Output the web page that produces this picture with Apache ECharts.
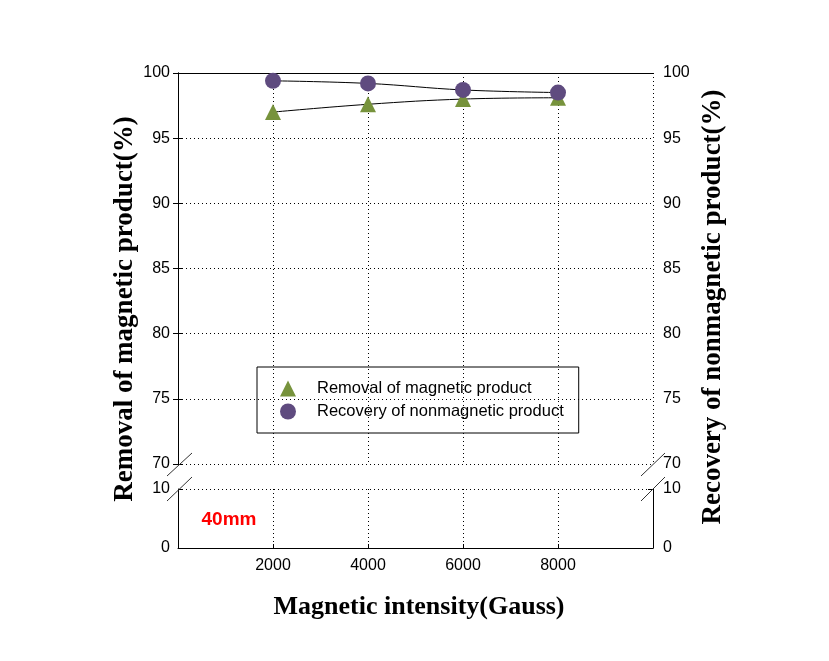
<!DOCTYPE html>
<html>
<head>
<meta charset="utf-8">
<script src="https://cdn.jsdelivr.net/npm/echarts@6/dist/echarts.min.js"></script>
<style>html,body{margin:0;padding:0;background:#fff;}#c{width:829px;height:661px;}</style>
</head>
<body>
<div id="c"></div>
<script>
// ---- data ----
var xValues = [2000, 4000, 6000, 8000];
var removal = [97.0, 97.6, 98.0, 98.1];
var recovery = [99.4, 99.2, 98.7, 98.5];
var seriesNames = ['Removal of magnetic product', 'Recovery of nonmagnetic product'];
var xTicks = [2000, 4000, 6000, 8000];
var yTopTicks = [70, 75, 80, 85, 90, 95, 100];
var yBottomTicks = [0, 10];
var xTitle = 'Magnetic intensity(Gauss)';
var yLeftTitle = 'Removal of magnetic product(%)';
var yRightTitle = 'Recovery of nonmagnetic product(%)';
var note = '40mm';

function pairs(xs, ys) { return xs.map(function (x, i) { return [x, ys[i]]; }); }

var chart = echarts.init(document.getElementById('c'));
var dotted = { color: '#000', width: 1, type: [1, 3] };
var lblFont = { fontFamily: 'Arial, "Liberation Sans", sans-serif', fontSize: 16, color: '#000' };
function xLabelFmt(v) { return xTicks.indexOf(v) >= 0 ? String(v) : ''; }

var slash = { stroke: '#333', lineWidth: 1 };
var serifBold = function (px) { return 'bold ' + px + 'px "Times New Roman", "Liberation Serif", serif'; };
chart.setOption({
  animation: false,
  backgroundColor: '#fff',
  grid: [
    { left: 178, top: 73, width: 475, height: 391 },
    { left: 178, top: 489, width: 475, height: 59 }
  ],
  xAxis: [
    { gridIndex: 0, type: 'value', position: 'bottom', min: 0, max: 10000, interval: 2000,
      axisLine: { show: false }, axisTick: { show: false }, axisLabel: { show: false },
      splitLine: { show: true, lineStyle: dotted } },
    { gridIndex: 0, type: 'value', position: 'top', min: 0, max: 10000, interval: 2000,
      axisLine: { show: true, lineStyle: { color: '#000', width: 1 } }, axisTick: { show: false },
      axisLabel: { show: false }, splitLine: { show: false } },
    { gridIndex: 1, type: 'value', position: 'bottom', min: 0, max: 10000, interval: 2000,
      axisLine: { show: true, lineStyle: { color: '#000', width: 1 } },
      axisTick: { show: true, inside: true, length: 4, lineStyle: { color: '#000' } },
      axisLabel: Object.assign({ margin: 10, formatter: xLabelFmt }, lblFont),
      splitLine: { show: true, lineStyle: dotted } }
  ],
  yAxis: [
    { gridIndex: 0, type: 'value', position: 'left', min: yTopTicks[0], max: yTopTicks[yTopTicks.length - 1], interval: 5,
      axisLine: { show: true, lineStyle: { color: '#000', width: 1 } },
      axisTick: { show: true, inside: true, length: 5, lineStyle: { color: '#000' } },
      axisLabel: Object.assign({ margin: 8, padding: [3, 0, 0, 0] }, lblFont),
      splitLine: { show: true, lineStyle: dotted } },
    { gridIndex: 0, type: 'value', position: 'right', min: yTopTicks[0], max: yTopTicks[yTopTicks.length - 1], interval: 5,
      axisLine: { show: true, lineStyle: { color: '#000', width: 1 } },
      axisTick: { show: true, inside: true, length: 5, lineStyle: { color: '#000' } },
      axisLabel: Object.assign({ margin: 10, padding: [3, 0, 0, 0] }, lblFont),
      splitLine: { show: false } },
    { gridIndex: 1, type: 'value', position: 'left', min: yBottomTicks[0], max: yBottomTicks[1], interval: 10,
      axisLine: { show: true, lineStyle: { color: '#000', width: 1 } },
      axisTick: { show: true, inside: true, length: 5, lineStyle: { color: '#000' } },
      axisLabel: Object.assign({ margin: 8, padding: [3, 0, 0, 0] }, lblFont),
      splitLine: { show: true, lineStyle: dotted } },
    { gridIndex: 1, type: 'value', position: 'right', min: yBottomTicks[0], max: yBottomTicks[1], interval: 10,
      axisLine: { show: true, lineStyle: { color: '#000', width: 1 } },
      axisTick: { show: true, inside: true, length: 5, lineStyle: { color: '#000' } },
      axisLabel: Object.assign({ margin: 10, padding: [3, 0, 0, 0] }, lblFont),
      splitLine: { show: false } }
  ],
  legend: {
    orient: 'vertical', left: 257, top: 367,
    padding: [13, 15, 13, 23], itemGap: 6, itemWidth: 16, itemHeight: 16,
    borderColor: '#000', borderWidth: 1, borderRadius: 0,
    textStyle: { fontFamily: 'Arial, "Liberation Sans", sans-serif', fontSize: 16.5, color: '#000', padding: [0, 0, 0, 16] },
    data: [ { name: seriesNames[0], icon: 'triangle' }, { name: seriesNames[1], icon: 'circle' } ]
  },
  series: [
    { name: seriesNames[0], type: 'line', xAxisIndex: 0, yAxisIndex: 0, data: pairs(xValues, removal),
      smooth: 0.4, symbol: 'triangle', symbolSize: 16,
      lineStyle: { color: '#000', width: 1 }, itemStyle: { color: '#77933C' } },
    { name: seriesNames[1], type: 'line', xAxisIndex: 0, yAxisIndex: 0, data: pairs(xValues, recovery),
      smooth: 0.4, symbol: 'circle', symbolSize: 16,
      lineStyle: { color: '#000', width: 1 }, itemStyle: { color: '#5F4B7F' } }
  ],
  graphic: [
    { type: 'line', shape: { x1: 167, y1: 476, x2: 192, y2: 453 }, style: slash, z: 10 },
    { type: 'line', shape: { x1: 167, y1: 501, x2: 192, y2: 477 }, style: slash, z: 10 },
    { type: 'line', shape: { x1: 641, y1: 476, x2: 665, y2: 453 }, style: slash, z: 10 },
    { type: 'line', shape: { x1: 641, y1: 501, x2: 665, y2: 477 }, style: slash, z: 10 },
    { type: 'text', x: 229, y: 520, style: { text: note, fill: '#FF0000', font: 'bold 19px Arial, "Liberation Sans", sans-serif', align: 'center', verticalAlign: 'middle' } },
    { type: 'text', x: 419, y: 607, style: { text: xTitle, fill: '#000', font: serifBold(26), align: 'center', verticalAlign: 'middle' } },
    { type: 'text', x: 125, y: 309, rotation: Math.PI / 2, style: { text: yLeftTitle, fill: '#000', font: serifBold(27), align: 'center', verticalAlign: 'middle' } },
    { type: 'text', x: 713, y: 307, rotation: Math.PI / 2, style: { text: yRightTitle, fill: '#000', font: serifBold(27), align: 'center', verticalAlign: 'middle' } }
  ]
});
</script>
</body>
</html>
